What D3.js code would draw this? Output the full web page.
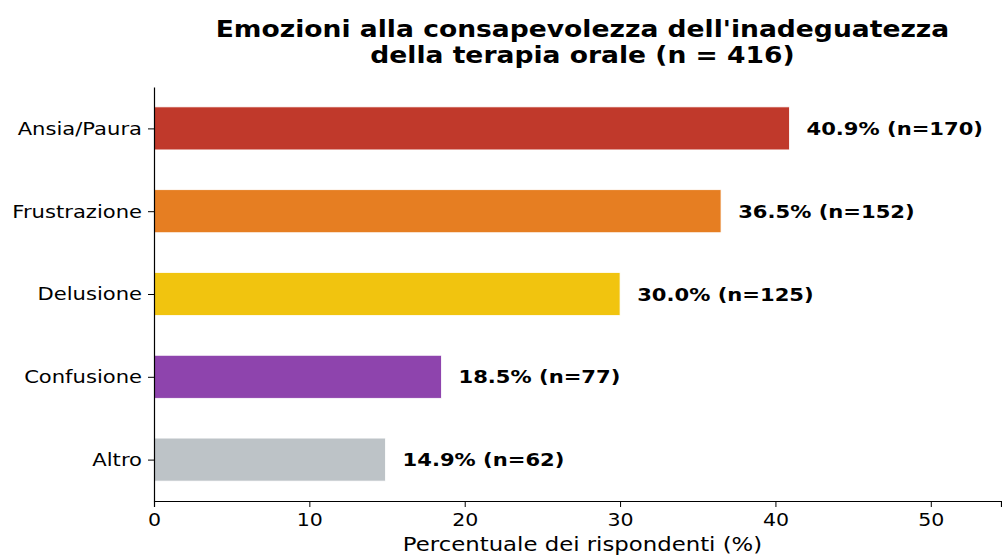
<!DOCTYPE html>
<html>
<head>
<meta charset="utf-8">
<script src="https://cdn.jsdelivr.net/npm/d3@7"></script>
<style>
  body { margin: 0; background: #fff; }
  svg text { font-family: "DejaVu Sans", sans-serif; }
</style>
</head>
<body>
<div id="chart"></div>
<script>
const categories = ['Ansia/Paura', 'Frustrazione', 'Delusione', 'Confusione', 'Altro'];
const percentages = [40.9, 36.5, 30.0, 18.5, 14.9];
const counts = [170, 152, 125, 77, 62];
const colors = ['#c0392b', '#e67e22', '#f1c40f', '#8e44ad', '#bdc3c7'];
const xTicks = [0, 10, 20, 30, 40, 50];

const W = 1002, H = 558;
const margin = { top: 87, right: 1, bottom: 57, left: 154 };
const width = W - margin.left - margin.right;
const height = H - margin.top - margin.bottom;
const stretch = 1.14; // the reference glyphs are a bit wider than tall

const svg = d3.select('#chart').append('svg')
  .attr('width', W)
  .attr('height', H);

const g = svg.append('g')
  .attr('transform', `translate(${margin.left},${margin.top})`);

const x = d3.scaleLinear()
  .domain([0, d3.max(percentages) * 1.333])
  .range([0, width]);

// first category on top
const y = d3.scaleLinear()
  .domain([categories.length - 0.5, -0.5])
  .range([height, 0]);
const barH = 0.52 * (y(1) - y(0));

const data = categories.map((c, i) => ({ cat: c, pct: percentages[i], n: counts[i], color: colors[i], i }));

g.selectAll('.bar')
  .data(data)
  .enter().append('rect')
  .attr('class', 'bar')
  .attr('x', x(0))
  .attr('y', d => y(d.i) - barH / 2)
  .attr('width', d => x(d.pct) - x(0))
  .attr('height', barH)
  .attr('fill', d => d.color)
  .attr('stroke', '#fff')
  .attr('stroke-width', 0.8);

g.selectAll('.label')
  .data(data)
  .enter().append('text')
  .attr('class', 'label')
  .attr('x', d => x(d.pct + 1.1))
  .attr('y', d => y(d.i))
  .attr('dy', '0.36em')
  .attr('font-size', 18.5)
  .attr('font-weight', 'bold')
  .text(d => `${d.pct.toFixed(1)}% (n=${d.n})`);

// x axis
const xAxis = g.append('g')
  .attr('transform', `translate(0,${height})`)
  .call(d3.axisBottom(x).tickValues(xTicks).tickSize(6).tickPadding(6));
xAxis.selectAll('text').attr('font-size', 18).attr('fill', '#000');
xAxis.select('.domain').attr('stroke', '#000').attr('stroke-width', 1.2);

xAxis.append('text')
  .attr('x', width / 2 + 5)
  .attr('y', 50)
  .attr('fill', '#000')
  .attr('font-size', 20)
  .style('text-anchor', 'middle')
  .text('Percentuale dei rispondenti (%)');

// y axis
const yAxis = g.append('g')
  .call(d3.axisLeft(y)
    .tickValues(d3.range(categories.length))
    .tickFormat(i => categories[i])
    .tickSize(6).tickPadding(6).tickSizeOuter(0));
yAxis.selectAll('text').attr('font-size', 18.5).attr('fill', '#000');
yAxis.select('.domain').attr('stroke', '#000').attr('stroke-width', 1.2);

// title
const titleLines = ["Emozioni alla consapevolezza dell'inadeguatezza", 'della terapia orale (n = 416)'];
svg.selectAll('.title')
  .data(titleLines)
  .enter().append('text')
  .attr('class', 'title')
  .attr('x', margin.left + width / 2 + 5)
  .attr('y', (d, i) => 37 + i * 26)
  .attr('font-size', 23.3)
  .attr('font-weight', 'bold')
  .style('text-anchor', 'middle')
  .text(d => d);

// widen every text the same way the reference does
svg.selectAll('text').each(function () {
  const len = this.getComputedTextLength();
  d3.select(this)
    .attr('textLength', len * stretch)
    .attr('lengthAdjust', 'spacingAndGlyphs');
});
</script>
</body>
</html>
